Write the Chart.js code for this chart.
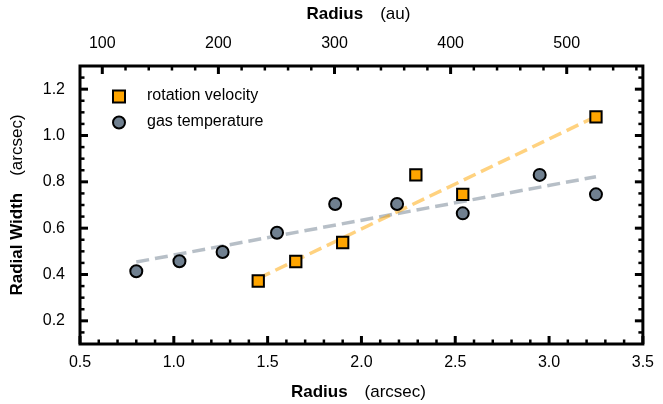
<!DOCTYPE html>
<html><head><meta charset="utf-8">
<script src="https://cdn.jsdelivr.net/npm/chart.js@4/dist/chart.umd.min.js"></script>
<style>html,body{margin:0;padding:0;background:#fff}#wrap{width:663px;height:404px}</style>
</head><body><div id="wrap"><canvas id="c" width="663" height="404"></canvas></div>
<script>
// ---- data ----
const rotX = [1.45, 1.65, 1.90, 2.29, 2.54, 3.25];
const rotY = [0.372, 0.456, 0.538, 0.830, 0.746, 1.080];
const gasX = [0.80, 1.03, 1.26, 1.55, 1.86, 2.19, 2.54, 2.95, 3.25];
const gasY = [0.414, 0.457, 0.497, 0.580, 0.704, 0.704, 0.664, 0.830, 0.746];
const rotFitX = [1.45, 3.25];
const rotFitY = [0.383, 1.082];
const gasFitX = [0.80, 3.25];
const gasFitY = [0.454, 0.822];
const xTicks = [0.5, 1.0, 1.5, 2.0, 2.5, 3.0, 3.5];
const yTicks = [0.2, 0.4, 0.6, 0.8, 1.0, 1.2];
const auTicks = [100, 200, 300, 400, 500];
const distancePc = 161.6; // au per arcsec
const xRange = [0.5, 3.5];
const yRange = [0.1, 1.3];
const xMinorStep = 0.1, yMinorStep = 0.05, auMinorStep = 20;

const FONT = "'Liberation Sans', Arial, Helvetica, sans-serif";
const pts = (xs, ys) => xs.map((x, i) => ({x: x, y: ys[i]}));

function minorValues(min, max, step, majors) {
  const out = [];
  const start = Math.ceil(min / step - 1e-9);
  const end = Math.floor(max / step + 1e-9);
  for (let k = start; k <= end; k++) {
    const v = k * step;
    if (Math.abs(v - min) < 1e-9 || Math.abs(v - max) < 1e-9) continue;
    if (majors.some(m => Math.abs(m - v) < 1e-6)) continue;
    out.push(v);
  }
  return out;
}

const framePlugin = {
  id: 'frame',
  beforeDatasetsDraw(chart) {
    const ctx = chart.ctx, a = chart.chartArea;
    const s = chart.scales;
    ctx.save();
    ctx.strokeStyle = '#000';
    ctx.lineCap = 'butt';
    const draw = (scale, vals, side, len, w) => {
      ctx.lineWidth = w;
      vals.forEach(v => {
        const p = scale.getPixelForValue(v);
        ctx.beginPath();
        if (side === 'bottom') { ctx.moveTo(p, a.bottom); ctx.lineTo(p, a.bottom - len); }
        if (side === 'top') { ctx.moveTo(p, a.top); ctx.lineTo(p, a.top + len); }
        if (side === 'left') { ctx.moveTo(a.left, p); ctx.lineTo(a.left + len, p); }
        if (side === 'right') { ctx.moveTo(a.right, p); ctx.lineTo(a.right - len, p); }
        ctx.stroke();
      });
    };
    const xMin = minorValues(xRange[0], xRange[1], xMinorStep, xTicks);
    const yMin = minorValues(yRange[0], yRange[1], yMinorStep, yTicks);
    const auMin = minorValues(xRange[0] * distancePc, xRange[1] * distancePc, auMinorStep, auTicks);
    draw(s.x, xTicks, 'bottom', 8, 3); draw(s.x, xMin, 'bottom', 4.5, 2.5);
    draw(s.x2, auTicks, 'top', 8, 3); draw(s.x2, auMin, 'top', 4.5, 2.5);
    draw(s.y, yTicks, 'left', 8, 3); draw(s.y, yMin, 'left', 4.5, 2.5);
    draw(s.y, yTicks, 'right', 8, 3); draw(s.y, yMin, 'right', 4.5, 2.5);
    ctx.restore();
  },
  afterDraw(chart) {
    const ctx = chart.ctx, a = chart.chartArea;
    ctx.save();
    // frame
    ctx.strokeStyle = '#000';
    ctx.lineWidth = 3;
    ctx.strokeRect(a.left, a.top, a.right - a.left, a.bottom - a.top);
    // axis titles (bold + normal)
    const two = (bold, normal, cx, cy, size, gap) => {
      ctx.font = 'bold ' + size + 'px ' + FONT;
      const wb = ctx.measureText(bold).width;
      ctx.font = size + 'px ' + FONT;
      const wn = ctx.measureText(normal).width;
      const x0 = cx - (wb + gap + wn) / 2;
      ctx.textBaseline = 'middle';
      ctx.textAlign = 'left';
      ctx.font = 'bold ' + size + 'px ' + FONT;
      ctx.fillText(bold, x0, cy);
      ctx.font = size + 'px ' + FONT;
      ctx.fillText(normal, x0 + wb + gap, cy);
    };
    ctx.fillStyle = '#000';
    const cx = (a.left + a.right) / 2 - 3;
    two('Radius', '(arcsec)', cx, 392, 17, 17);
    two('Radius', '(au)', cx, 14, 17, 17);
    ctx.save();
    ctx.translate(17, (a.top + a.bottom) / 2);
    ctx.rotate(-Math.PI / 2);
    two('Radial Width', '(arcsec)', 0, 0, 17, 17);
    ctx.restore();
    // legend
    const ds = chart.data.datasets;
    ctx.lineWidth = 2;
    ctx.strokeStyle = '#000';
    ctx.fillStyle = ds[0].backgroundColor;
    ctx.beginPath(); ctx.rect(a.left + 33, 90.5, 12, 12); ctx.fill(); ctx.stroke();
    ctx.fillStyle = ds[1].backgroundColor;
    ctx.beginPath(); ctx.arc(a.left + 39, 122.5, 6, 0, Math.PI * 2); ctx.fill(); ctx.stroke();
    ctx.fillStyle = '#000';
    ctx.font = '16px ' + FONT;
    ctx.textAlign = 'left';
    ctx.textBaseline = 'middle';
    ctx.fillText(ds[0].label, a.left + 67, 96);
    ctx.fillText(ds[1].label, a.left + 67, 122);
    ctx.restore();
  }
};

const tickFont = {family: FONT, size: 16};
new Chart(document.getElementById('c'), {
  type: 'scatter',
  data: {
    datasets: [
      {label: 'rotation velocity', data: pts(rotX, rotY), pointStyle: 'rect', pointRadius: 8, pointHoverRadius: 8,
       backgroundColor: '#FFA500', borderColor: '#000', borderWidth: 2, order: 1},
      {label: 'gas temperature', data: pts(gasX, gasY), pointStyle: 'circle', pointRadius: 6, pointHoverRadius: 6,
       backgroundColor: '#708090', borderColor: '#000', borderWidth: 2, order: 2},
      {label: 'rotation fit', data: pts(rotFitX, rotFitY), showLine: true, pointRadius: 0,
       borderColor: 'rgba(255,165,0,0.5)', borderWidth: 3.5, borderDash: [13, 6], order: 3},
      {label: 'gas fit', data: pts(gasFitX, gasFitY), showLine: true, pointRadius: 0,
       borderColor: 'rgba(112,128,144,0.5)', borderWidth: 3.5, borderDash: [13, 6], order: 4}
    ]
  },
  options: {
    responsive: false, animation: false, devicePixelRatio: 1,
    layout: {padding: 0},
    plugins: {legend: {display: false}, tooltip: {enabled: false}},
    scales: {
      x: {type: 'linear', position: 'bottom', min: xRange[0], max: xRange[1],
          grid: {display: false, drawTicks: false}, border: {display: false},
          afterBuildTicks: s => { s.ticks = xTicks.map(v => ({value: v})); },
          ticks: {font: tickFont, color: '#000', padding: 9, maxRotation: 0, callback: v => Number(v).toFixed(1)},
          afterFit: s => { s.height = 60; }},
      x2: {type: 'linear', position: 'top', min: xRange[0] * distancePc, max: xRange[1] * distancePc,
          grid: {display: false, drawTicks: false}, border: {display: false},
          afterBuildTicks: s => { s.ticks = auTicks.map(v => ({value: v})); },
          ticks: {font: tickFont, color: '#000', padding: 13, maxRotation: 0, callback: v => String(v)},
          afterFit: s => { s.height = 66; }},
      y: {type: 'linear', position: 'left', min: yRange[0], max: yRange[1],
          grid: {display: false, drawTicks: false}, border: {display: false},
          afterBuildTicks: s => { s.ticks = yTicks.map(v => ({value: v})); },
          ticks: {font: tickFont, color: '#000', padding: 15, callback: v => Number(v).toFixed(1)},
          afterFit: s => { s.width = 80; }},
      y2: {type: 'linear', position: 'right', min: yRange[0], max: yRange[1],
          grid: {display: false, drawTicks: false}, border: {display: false},
          ticks: {display: false},
          afterFit: s => { s.width = 15; }}
    }
  },
  plugins: [framePlugin]
});
</script>
</body></html>
